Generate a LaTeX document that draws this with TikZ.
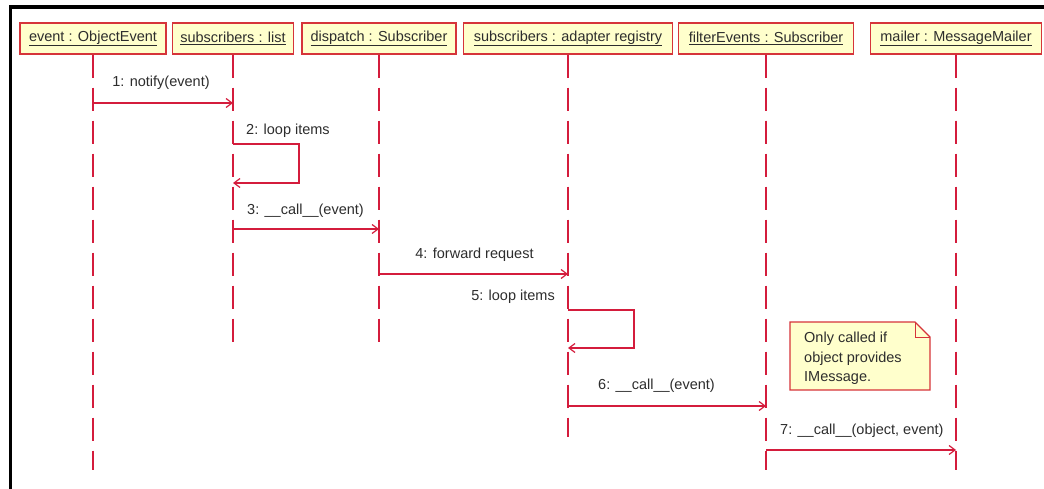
\documentclass[tikz,border=0pt]{standalone}
\usepackage{fontspec}
\setmainfont{Liberation Sans}
\usetikzlibrary{arrows.meta}
\definecolor{umlred}{RGB}{212,28,60}
\definecolor{boxred}{RGB}{214,52,58}
\definecolor{boxfill}{RGB}{255,255,204}
\definecolor{txt}{RGB}{45,45,45}
\begin{document}
\begin{tikzpicture}[x=1pt,y=-1pt,
  obj/.style={draw=boxred,fill=boxfill,line width=1.2pt,minimum height=31pt,inner sep=0pt,
    text=txt,font=\fontsize{14.5}{17}\selectfont},
  life/.style={draw=umlred,line width=1.4pt,dash pattern=on 23pt off 10pt},
  msg/.style={draw=umlred,line width=1.2pt,-{Straight Barb[length=6pt,width=9pt]}},
  lbl/.style={text=txt,font=\fontsize{14.5}{17}\selectfont,inner sep=0pt},
  notebox/.style={draw=boxred,fill=boxfill,line width=1.2pt}]
\useasboundingbox (0,0) rectangle (1044,489);
\fill[white] (0,0) rectangle (1044,489);
% frame
\draw[black,line width=4pt] (9,7.5) -- (1044,7.5);
\draw[black,line width=3pt] (10.5,5.5) -- (10.5,489);
% objects
\node[obj,minimum width=146pt] (A) at (93,38.5) {\underline{event : ObjectEvent}};
\node[obj,minimum width=121pt] (B) at (233,38.5) {\underline{subscribers : list}};
\node[obj,minimum width=154pt] (C) at (379,38.5) {\underline{dispatch : Subscriber}};
\node[obj,minimum width=209pt] (D) at (568,38.5) {\underline{subscribers : adapter registry}};
\node[obj,minimum width=175pt] (E) at (766,38.5) {\underline{filterEvents : Subscriber}};
\node[obj,minimum width=171pt] (F) at (956,38.5) {\underline{mailer : MessageMailer}};
% lifeline ends
\coordinate (Aend) at (93,470);
\coordinate (Bend) at (233,343);
\coordinate (Cend) at (379,343);
\coordinate (Dend) at (568,437);
\coordinate (Eend) at (766,470);
\coordinate (Fend) at (956,470);
\draw[life] (A.south) -- (Aend);
\draw[life] (B.south) -- (Bend);
\draw[life] (C.south) -- (Cend);
\draw[life] (D.south) -- (Dend);
\draw[life] (E.south) -- (Eend);
\draw[life] (F.south) -- (Fend);
% message 1
\coordinate (m1a) at (93,103); \coordinate (m1b) at (233,103);
\draw[msg] (m1a) -- (m1b);
\node[lbl] (l1) at (161,83) {1: notify(event)};
% message 2 (self loop)
\coordinate (m2a) at (233,144); \coordinate (m2b) at (233,183);
\draw[msg] (m2a) -- (299,144) -- (299,183) -- (m2b);
\node[lbl,anchor=west] (l2) at (246,131) {2: loop items};
% message 3
\coordinate (m3a) at (233,229); \coordinate (m3b) at (379,229);
\draw[msg] (m3a) -- (m3b);
\node[lbl,anchor=west] (l3) at (247,211) {3: \_\_call\_\_(event)};
% message 4
\coordinate (m4a) at (379,274); \coordinate (m4b) at (568,274);
\draw[msg] (m4a) -- (m4b);
\node[lbl] (l4) at (474.5,255) {4: forward request};
% message 5 (self loop)
\coordinate (m5a) at (568,310); \coordinate (m5b) at (568,348);
\draw[msg] (m5a) -- (634,310) -- (634,348) -- (m5b);
\node[lbl,anchor=east] (l5) at (555,297) {5: loop items};
% message 6
\coordinate (m6a) at (568,406); \coordinate (m6b) at (766,406);
\draw[msg] (m6a) -- (m6b);
\node[lbl,anchor=west] (l6) at (598,386) {6: \_\_call\_\_(event)};
% message 7
\coordinate (m7a) at (766,450); \coordinate (m7b) at (956,450);
\draw[msg] (m7a) -- (m7b);
\node[lbl,anchor=west] (l7) at (780,431) {7: \_\_call\_\_(object, event)};
% note
\draw[notebox] (790,322) -- (915,322) -- (930,337) -- (930,390) -- (790,390) -- cycle;
\draw[boxred,line width=1pt] (915,322) -- (915,337) -- (930,337);
\node[lbl,anchor=north west,align=left,font=\fontsize{14.5}{19.5}\selectfont] (note) at (804,332)
  {Only called if\\object provides\\IMessage.};
\end{tikzpicture}
\end{document}
